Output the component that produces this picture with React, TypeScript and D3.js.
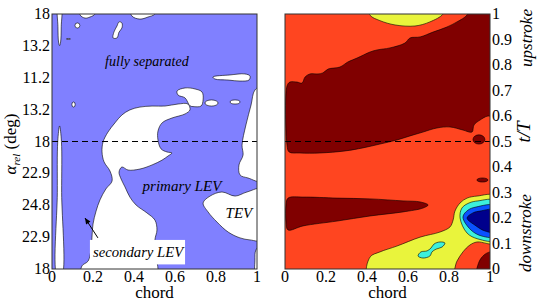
import React from "react";
import * as d3 from "d3";

type P = [number, number];

// ---------- axes ----------
const xTicks = [0, 0.2, 0.4, 0.6, 0.8, 1];
const xTickLabels = ["0", "0.2", "0.4", "0.6", "0.8", "1"];
const leftTicks = [0, 0.125, 0.25, 0.375, 0.5, 0.625, 0.75, 0.875, 1];
const leftTickLabels = ["18", "22.9", "24.8", "22.9", "18", "13.2", "11.2", "13.2", "18"];
const rightTicks = [0, 0.1, 0.2, 0.3, 0.4, 0.5, 0.6, 0.7, 0.8, 0.9, 1];
const rightTickLabels = ["0", "0.1", "0.2", "0.3", "0.4", "0.5", "0.6", "0.7", "0.8", "0.9", "1"];

// ---------- left panel: white (attached-flow) regions, [chord, t/T] ----------
const mainVortex: P[] = [
  [0.38, 0.624], [0.429, 0.635], [0.488, 0.639], [0.551, 0.639], [0.615, 0.647], [0.663, 0.647],
  [0.673, 0.624], [0.649, 0.608], [0.585, 0.592], [0.537, 0.573], [0.517, 0.541], [0.517, 0.506],
  [0.532, 0.471], [0.561, 0.459], [0.585, 0.455], [0.566, 0.443], [0.537, 0.427], [0.488, 0.408],
  [0.429, 0.392], [0.371, 0.388], [0.341, 0.4], [0.327, 0.38], [0.337, 0.353], [0.356, 0.322],
  [0.38, 0.282], [0.41, 0.251], [0.463, 0.22], [0.502, 0.192], [0.512, 0.153], [0.502, 0.114],
  [0.507, 0.055], [0.507, -0.03], [0.146, -0.03], [0.146, 0.012], [0.176, 0.031], [0.19, 0.075],
  [0.195, 0.125], [0.2, 0.176], [0.215, 0.227], [0.234, 0.271], [0.263, 0.314], [0.293, 0.345],
  [0.283, 0.384], [0.254, 0.42], [0.244, 0.459], [0.249, 0.498], [0.273, 0.537], [0.307, 0.573],
  [0.341, 0.604],
];
const midBlob: P[] = [
  [0.61, 0.698], [0.649, 0.71], [0.698, 0.706], [0.732, 0.694], [0.737, 0.663], [0.727, 0.639],
  [0.688, 0.637], [0.673, 0.64], [0.649, 0.671], [0.615, 0.682],
];
const dropBlob: P[] = [
  [0.298, 0.906], [0.302, 0.929], [0.317, 0.953], [0.327, 0.969], [0.341, 0.965], [0.341, 0.945],
  [0.327, 0.929], [0.317, 0.906],
];
const topBlobA: P[] = [
  [0.132, 1.03], [0.137, 0.996], [0.161, 0.984], [0.185, 0.988], [0.21, 1.0], [0.215, 1.03],
];
const topBlobB: P[] = [
  [0.38, 1.03], [0.39, 0.992], [0.429, 0.98], [0.468, 0.988], [0.502, 1.0], [0.507, 1.03],
];
const streakBlob: P[] = [
  [0.785, 0.753], [0.868, 0.761], [0.941, 0.765], [0.966, 0.757], [0.961, 0.741], [0.917, 0.737],
  [0.859, 0.741], [0.795, 0.745],
];
const edgeRegion: P[] = [
  [1.03, 0.718], [0.99, 0.702], [0.971, 0.643], [0.946, 0.565], [0.927, 0.486], [0.932, 0.447],
  [0.912, 0.408], [0.917, 0.369], [0.956, 0.357], [1.03, 0.345],
];
const tevRegion: P[] = [
  [1.03, 0.314], [0.951, 0.302], [0.893, 0.286], [0.829, 0.302], [0.771, 0.286], [0.737, 0.259],
  [0.761, 0.224], [0.805, 0.184], [0.859, 0.145], [0.917, 0.122], [0.966, 0.114], [1.03, 0.114],
];
const edgeSliver: P[] = [
  [1.03, 0.1], [0.995, 0.075], [0.99, 0.035], [0.995, -0.03], [1.03, -0.03],
];
const stripLow: P[] = [
  [0.026, -0.03], [0.026, 0.3], [0.028, 0.5], [0.037, 0.561], [0.046, 0.5], [0.047, 0.3], [0.047, -0.03],
];
const stripHigh: P[] = [
  [0.029, 1.03], [0.029, 0.95], [0.032, 0.89], [0.037, 0.876], [0.042, 0.89], [0.045, 0.95], [0.045, 1.03],
];
const leftSmall = [
  { cx: 0.778, cy: 0.651, rx: 0.032, ry: 0.012 },
  { cx: 0.893, cy: 0.655, rx: 0.024, ry: 0.008 },
  { cx: 0.105, cy: 0.645, rx: 0.008, ry: 0.01 },
  { cx: 0.124, cy: 0.955, rx: 0.012, ry: 0.01 },
  { cx: 0.08, cy: 0.902, rx: 0.01, ry: 0.002 },
];
const leftRegions = [mainVortex, midBlob, dropBlob, topBlobA, topBlobB, streakBlob, edgeRegion, tevRegion, edgeSliver, stripLow, stripHigh];

// ---------- right panel: contour levels, [chord, t/T] ----------
const upperDark: P[] = [
  [0.01, 0.718], [0.024, 0.733], [0.059, 0.733], [0.083, 0.729], [0.098, 0.753], [0.122, 0.765],
  [0.161, 0.765], [0.185, 0.769], [0.21, 0.784], [0.268, 0.792], [0.307, 0.812], [0.351, 0.827],
  [0.415, 0.851], [0.449, 0.859], [0.512, 0.867], [0.585, 0.886], [0.61, 0.906], [0.659, 0.91],
  [0.722, 0.929], [0.79, 0.949], [0.839, 0.969], [0.888, 0.996], [0.902, 1.03], [1.03, 1.03],
  [1.03, 0.596], [0.99, 0.6], [0.951, 0.584], [0.922, 0.565], [0.912, 0.537], [0.868, 0.545],
  [0.805, 0.557], [0.741, 0.553], [0.673, 0.537], [0.61, 0.522], [0.546, 0.506], [0.463, 0.49],
  [0.38, 0.475], [0.293, 0.463], [0.171, 0.455], [0.073, 0.455], [0.02, 0.459], [0.01, 0.486],
];
const topYellow: P[] = [
  [0.405, 1.03], [0.415, 0.995], [0.463, 0.974], [0.537, 0.957], [0.634, 0.953], [0.707, 0.969],
  [0.771, 1.0], [0.78, 1.03],
];
const lowerDark: P[] = [
  [0.015, 0.278], [0.088, 0.282], [0.254, 0.278], [0.415, 0.275], [0.576, 0.267], [0.659, 0.263],
  [0.698, 0.251], [0.673, 0.239], [0.576, 0.224], [0.415, 0.208], [0.254, 0.188], [0.088, 0.169],
  [0.015, 0.153], [0.005, 0.184], [0.005, 0.251],
];
const cornerDark: P[] = [
  [0.937, -0.03], [0.946, 0.027], [0.971, 0.055], [1.0, 0.067], [1.03, 0.067], [1.03, -0.03],
];
const lowYellow: P[] = [
  [0.405, -0.03], [0.415, 0.047], [0.463, 0.067], [0.546, 0.09], [0.659, 0.125], [0.756, 0.145],
  [0.805, 0.165], [0.82, 0.192], [0.829, 0.227], [0.854, 0.259], [0.888, 0.278], [0.937, 0.286],
  [1.03, 0.286], [1.03, 0.102], [0.937, 0.106], [0.902, 0.094], [0.868, 0.067], [0.839, 0.031],
  [0.805, -0.03],
];
const cyanRing: P[] = [
  [0.854, 0.2], [0.863, 0.239], [0.898, 0.259], [0.941, 0.267], [1.03, 0.267], [1.03, 0.114],
  [0.941, 0.118], [0.888, 0.141],
];
const blueRing: P[] = [
  [0.868, 0.204], [0.893, 0.231], [0.932, 0.243], [1.03, 0.247], [1.03, 0.129], [0.961, 0.129],
  [0.907, 0.153],
];
const navyCore: P[] = [
  [0.888, 0.2], [0.917, 0.22], [0.951, 0.227], [1.03, 0.231], [1.03, 0.145], [0.976, 0.149],
  [0.932, 0.169],
];
const cyanIsland: P[] = [
  [0.649, 0.051], [0.663, 0.067], [0.693, 0.071], [0.712, 0.082], [0.727, 0.098], [0.756, 0.106],
  [0.78, 0.102], [0.766, 0.086], [0.737, 0.078], [0.717, 0.067], [0.707, 0.051], [0.673, 0.043],
];
const rightSmall = [
  { cx: 0.946, cy: 0.508, rx: 0.029, ry: 0.018 },
  { cx: 0.963, cy: 0.349, rx: 0.027, ry: 0.008 },
];
const rightLayers: { pts: P[]; level: number }[] = [
  { pts: upperDark, level: 0 },
  { pts: lowerDark, level: 0 },
  { pts: cornerDark, level: 0 },
  { pts: topYellow, level: 2 },
  { pts: lowYellow, level: 2 },
  { pts: cyanRing, level: 3 },
  { pts: blueRing, level: 4 },
  { pts: navyCore, level: 5 },
  { pts: cyanIsland, level: 3 },
];
const levelColors = ["#800000", "#ff4520", "#e9f43c", "#3cf0dc", "#0a52ff", "#00008c"];

// ---------- annotations ----------
const notes = [
  { text: "fully separated", c: 0.463, t: 0.796, size: 14 },
  { text: "primary LEV", c: 0.634, t: 0.306, size: 15 },
  { text: "TEV", c: 0.912, t: 0.2, size: 15 },
  { text: "secondary LEV", c: 0.42, t: 0.047, size: 14.7 },
];
const noteBox = { c0: 0.185, c1: 0.649, t0: 0.018, t1: 0.114 };
const arrowFrom: P = [0.224, 0.122];
const arrowTo: P = [0.161, 0.2];

const W = 540, H = 302;
const top = 14, bottom = 269;
const font = "'Liberation Serif', 'DejaVu Serif', serif";

export default function App() {
  const y = d3.scaleLinear().domain([0, 1]).range([bottom, top]);
  const xl = d3.scaleLinear().domain([0, 1]).range([52, 257]);
  const xr = d3.scaleLinear().domain([0, 1]).range([285, 490]);
  const pathOf = (x: d3.ScaleLinear<number, number>) =>
    d3.line<P>().x((d) => x(d[0])).y((d) => y(d[1])).curve(d3.curveCatmullRomClosed.alpha(0.5));
  const lpath = pathOf(xl);
  const rpath = pathOf(xr);
  const ax = xl(arrowFrom[0]), ay = y(arrowFrom[1]), bx = xl(arrowTo[0]), by = y(arrowTo[1]);
  const ang = Math.atan2(by - ay, bx - ax);
  const hl = 6, hw = 2.6;
  const head = [
    [bx, by],
    [bx - hl * Math.cos(ang) + hw * Math.sin(ang), by - hl * Math.sin(ang) - hw * Math.cos(ang)],
    [bx - hl * Math.cos(ang) - hw * Math.sin(ang), by - hl * Math.sin(ang) + hw * Math.cos(ang)],
  ].map((p) => p.join(",")).join(" ");

  const xAxis = (x: d3.ScaleLinear<number, number>, key: string) => (
    <g key={key}>
      {xTicks.map((v, i) => (
        <text key={i} x={x(v)} y={282} textAnchor="middle" fontSize={16}>{xTickLabels[i]}</text>
      ))}
      <text x={(x(0) + x(1)) / 2} y={298} textAnchor="middle" fontSize={17}>chord</text>
    </g>
  );

  return (
    <svg width={W} height={H} style={{ position: "absolute", left: 0, top: 0, background: "#fff" }} fontFamily={font}>
      <defs>
        <clipPath id="cl"><rect x={xl(0)} y={top} width={xl(1) - xl(0)} height={bottom - top} /></clipPath>
        <clipPath id="cr"><rect x={xr(0)} y={top} width={xr(1) - xr(0)} height={bottom - top} /></clipPath>
      </defs>

      {/* left panel */}
      <g clipPath="url(#cl)">
        <rect x={xl(0)} y={top} width={xl(1) - xl(0)} height={bottom - top} fill="#8080ff" />
        {leftRegions.map((r, i) => (
          <path key={i} d={lpath(r) || ""} fill="#fff" stroke="#000" strokeWidth={0.6} />
        ))}
        {leftSmall.map((e, i) => (
          <ellipse key={i} cx={xl(e.cx)} cy={y(e.cy)} rx={xl(e.rx) - xl(0)} ry={y(0) - y(e.ry)} fill="#fff" stroke="#000" strokeWidth={0.6} />
        ))}
        <rect x={xl(noteBox.c0)} y={y(noteBox.t1)} width={xl(noteBox.c1) - xl(noteBox.c0)} height={y(noteBox.t0) - y(noteBox.t1)} fill="#fff" />
        <line x1={xl(0)} x2={xl(1)} y1={y(0.5)} y2={y(0.5)} stroke="#000" strokeWidth={1} strokeDasharray="6,4" />
        {notes.map((n, i) => (
          <text key={i} x={xl(n.c)} y={y(n.t)} textAnchor="middle" fontStyle="italic" fontSize={n.size}>{n.text}</text>
        ))}
        <line x1={ax} y1={ay} x2={bx} y2={by} stroke="#000" strokeWidth={1} />
        <polygon points={head} fill="#000" />
      </g>
      <rect x={xl(0)} y={top} width={xl(1) - xl(0)} height={bottom - top} fill="none" stroke="#333" strokeWidth={1} />

      {/* right panel */}
      <g clipPath="url(#cr)">
        <rect x={xr(0)} y={top} width={xr(1) - xr(0)} height={bottom - top} fill={levelColors[1]} />
        {rightLayers.map((l, i) => (
          <path key={i} d={rpath(l.pts) || ""} fill={levelColors[l.level]} stroke="#000" strokeWidth={0.6} />
        ))}
        {rightSmall.map((e, i) => (
          <ellipse key={i} cx={xr(e.cx)} cy={y(e.cy)} rx={xr(e.rx) - xr(0)} ry={y(0) - y(e.ry)} fill={levelColors[0]} stroke="#000" strokeWidth={0.6} />
        ))}
        <line x1={xr(0)} x2={xr(1)} y1={y(0.5)} y2={y(0.5)} stroke="#000" strokeWidth={1} strokeDasharray="6,4" />
      </g>
      <rect x={xr(0)} y={top} width={xr(1) - xr(0)} height={bottom - top} fill="none" stroke="#333" strokeWidth={1} />

      {/* left y axis */}
      {leftTicks.map((v, i) => (
        <text key={i} x={50} y={y(v) + 5} textAnchor="end" fontSize={16}>{leftTickLabels[i]}</text>
      ))}
      <text transform={`translate(16,${144}) rotate(-90)`} textAnchor="middle" fontSize={17}>
        <tspan fontStyle="italic">α</tspan>
        <tspan fontStyle="italic" fontSize={11} dy={4}>rel</tspan>
        <tspan dy={-4}> (deg)</tspan>
      </text>

      {/* right y axis */}
      {rightTicks.map((v, i) => (
        <text key={i} x={492} y={y(v) + 5} textAnchor="start" fontSize={16}>{rightTickLabels[i]}</text>
      ))}
      <text transform={`translate(530,132) rotate(-90)`} textAnchor="middle" fontSize={19} fontStyle="italic">t/T</text>
      <text transform={`translate(532,38) rotate(-90)`} textAnchor="middle" fontSize={17} fontStyle="italic">upstroke</text>
      <text transform={`translate(531,233) rotate(-90)`} textAnchor="middle" fontSize={17} fontStyle="italic">downstroke</text>

      {xAxis(xl, "xl")}
      {xAxis(xr, "xr")}
    </svg>
  );
}
